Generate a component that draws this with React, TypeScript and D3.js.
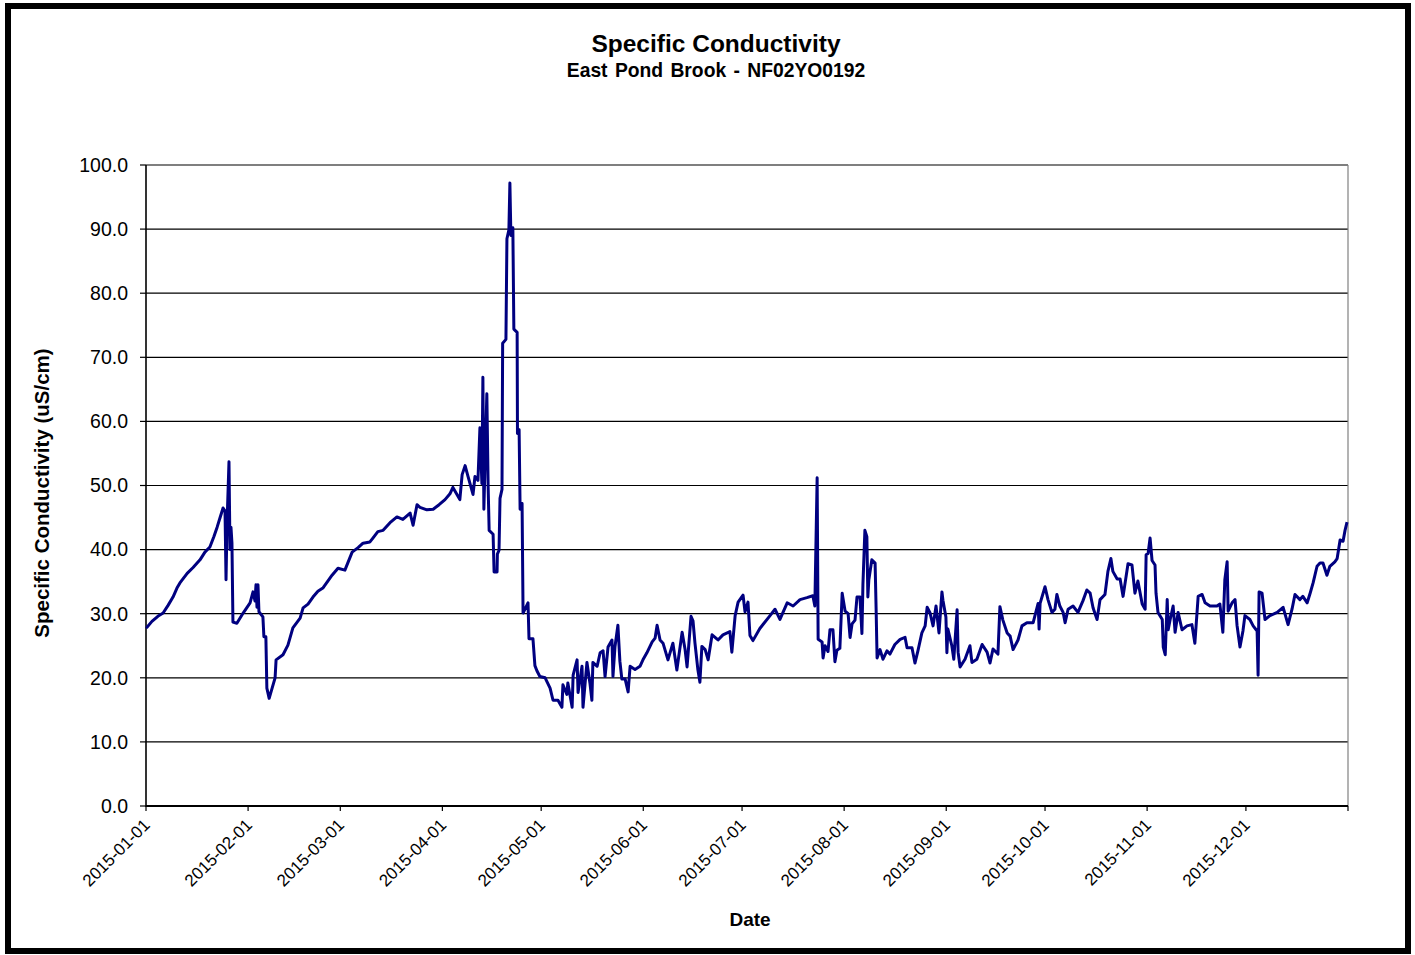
import * as d3 from "d3";

// readings as [day of year (0 = 2015-01-01), uS/cm]
const janMar: [number, number][] = [
  [0, 28.0], [0.3, 27.9], [1.8, 28.8], [3.6, 29.6], [5.2, 30.1], [6.7, 31.3], [8.2, 32.6],
  [9.4, 34.0], [10.3, 34.8], [12.5, 36.3], [14.3, 37.2], [16.4, 38.4], [17.9, 39.6],
  [19.4, 40.4], [20.6, 42.0], [21.6, 43.5], [22.5, 45.0], [23.4, 46.5], [24.0, 46.0],
  [24.3, 35.3], [24.6, 44.0], [25.2, 53.7], [25.5, 40.0], [25.8, 43.5], [26.1, 41.0],
  [26.4, 28.7], [27.6, 28.5], [29.5, 30.1], [31.6, 31.7], [32.5, 33.4], [33.1, 32.0],
  [33.4, 34.5], [33.7, 31.0], [34.0, 34.5], [34.3, 30.3], [35.5, 29.5], [35.8, 26.4],
  [36.4, 26.4], [36.7, 18.4], [37.4, 16.8], [38.3, 18.4], [39.2, 20.0], [39.5, 22.8],
  [41.6, 23.6], [43.1, 25.1], [44.6, 27.8], [46.8, 29.3], [47.7, 30.9], [49.2, 31.5],
  [50.7, 32.6], [52.2, 33.5], [53.7, 34.0], [56.5, 36.0], [58.3, 37.1], [60.4, 36.8],
  [62.6, 39.6], [64.4, 40.3], [65.9, 41.0], [68.0, 41.2], [68.9, 41.8], [70.4, 42.8],
  [72.0, 43.0], [74.1, 44.2], [76.2, 45.1], [78.0, 44.7], [80.2, 45.7], [81.1, 43.8],
  [82.3, 47.0], [83.2, 46.6], [85.3, 46.2], [87.2, 46.3], [89.0, 47.0],
];

const aprJun: [number, number][] = [
  [90.8, 47.8], [92.3, 48.7], [93.2, 49.7], [95.3, 47.8], [96.0, 51.7], [96.9, 53.1],
  [97.8, 51.4], [99.3, 48.6], [99.9, 51.4], [100.8, 50.8], [101.4, 59.0], [102.0, 50.3],
  [102.3, 66.9], [102.6, 46.3], [103.5, 64.3], [103.9, 49.7], [104.2, 43.0], [105.4, 42.4],
  [105.7, 36.5], [106.6, 36.5], [106.7, 39.3], [107.2, 39.9], [107.5, 48.0], [108.1, 49.4],
  [108.3, 72.2], [109.3, 72.8], [109.6, 88.5], [110.2, 89.9], [110.5, 97.2], [110.8, 89.0],
  [111.4, 90.2], [111.7, 74.4], [112.7, 73.9], [112.8, 58.1], [113.3, 58.7], [113.6, 46.3],
  [114.2, 47.2], [114.5, 30.1], [116.0, 31.7], [116.3, 26.1], [117.5, 26.1], [118.1, 21.9],
  [118.7, 21.1], [119.6, 20.2], [121.2, 20.0], [122.7, 18.4], [123.6, 16.5],
  [125.1, 16.5], [126.3, 15.4], [126.6, 18.9], [127.8, 17.4], [128.1, 19.2], [129.4, 15.4],
  [129.7, 20.4], [130.9, 22.8], [131.2, 17.7], [132.4, 21.8], [132.7, 15.4], [133.9, 22.4],
  [134.8, 19.2], [135.4, 16.5], [135.7, 22.4], [137.0, 21.8], [137.9, 23.9], [138.8, 24.2],
  [139.4, 20.2], [140.3, 24.8], [141.5, 25.9], [141.8, 20.2], [142.4, 24.8], [143.3, 28.2],
  [143.9, 22.6], [144.5, 19.8], [145.5, 19.8], [146.4, 17.8], [147.0, 21.8], [148.5, 21.3],
  [150.0, 21.8], [150.9, 22.8], [152.1, 23.9], [153.7, 25.6], [154.6, 26.2], [155.2, 28.2],
  [156.1, 25.9], [157.0, 25.4], [158.5, 22.8], [160.0, 25.4], [161.2, 21.2], [162.8, 27.1],
  [163.7, 24.4], [164.3, 21.7], [165.5, 29.6], [166.1, 28.9], [166.7, 25.4], [167.6, 21.2],
  [168.2, 19.3], [168.8, 24.9], [169.8, 24.4], [170.7, 22.8], [171.9, 26.7], [173.7, 25.9],
  [175.2, 26.7], [177.3, 27.2], [177.9, 24.0], [178.9, 29.7], [179.8, 31.8],
];

const julSep: [number, number][] = [
  [181.3, 32.9], [181.9, 30.3], [182.8, 31.8], [183.4, 26.6], [184.3, 25.8], [186.4, 27.7],
  [189.5, 29.7], [191.0, 30.7], [192.5, 29.1], [194.7, 31.7], [196.5, 31.2], [198.6, 32.2],
  [200.7, 32.5], [202.5, 32.8], [203.1, 31.2], [203.8, 51.2], [204.1, 26.0], [205.3, 25.6],
  [205.6, 23.1], [206.2, 25.0], [207.1, 24.1], [207.7, 27.5], [208.6, 27.5], [209.2, 22.5],
  [209.8, 24.3], [210.7, 24.6], [211.4, 33.2], [212.3, 30.4], [213.2, 30.0], [213.8, 26.3],
  [214.4, 28.4], [215.3, 29.0], [215.9, 32.6], [216.8, 32.6], [217.4, 26.9], [217.7, 34.5],
  [218.3, 43.0], [218.9, 42.0], [219.2, 32.6], [219.5, 35.3], [220.4, 38.4], [221.4, 37.9],
  [221.7, 30.9], [222.0, 23.1], [222.9, 24.4], [223.8, 22.9], [225.0, 24.2], [225.9, 23.7],
  [227.4, 25.2], [229.0, 26.0], [230.5, 26.3], [231.1, 24.7], [232.6, 24.7], [233.5, 22.3],
  [234.4, 24.2], [235.6, 27.0], [236.6, 28.1], [237.2, 31.0], [238.1, 30.1], [239.0, 28.1],
  [239.9, 31.2], [240.8, 27.0], [241.7, 33.4], [242.0, 32.1], [242.9, 29.5], [243.2, 23.9],
  [243.5, 27.6], [244.7, 25.0], [245.3, 22.9], [246.3, 30.6], [246.6, 24.0], [247.2, 21.7],
  [248.7, 22.9], [250.2, 25.0], [250.8, 22.4], [252.3, 22.9], [253.9, 25.2], [255.4, 24.0],
  [256.3, 22.3], [257.2, 24.5], [258.7, 23.7], [259.3, 31.1], [260.2, 29.0], [261.5, 27.0],
  [262.4, 26.5], [263.3, 24.4], [264.8, 25.9], [266.0, 28.1], [267.5, 28.6], [269.4, 28.6],
  [270.9, 31.6], [271.2, 27.6], [271.5, 31.6],
];

const octDec: [number, number][] = [
  [273.0, 34.2], [273.9, 32.2], [275.1, 30.2], [276.0, 30.7], [276.6, 33.0], [277.5, 31.2],
  [278.5, 30.2], [279.1, 28.6], [280.0, 30.7], [281.5, 31.2], [283.0, 30.2], [284.5, 32.0],
  [285.7, 33.7], [286.7, 33.2], [287.6, 30.9], [288.8, 29.1], [289.7, 32.2], [291.2, 33.0],
  [292.1, 36.6], [293.0, 38.6], [293.6, 36.6], [294.9, 35.4], [295.8, 35.4], [296.7, 32.7],
  [298.2, 37.8], [299.4, 37.6], [300.3, 33.2], [301.2, 35.1], [302.5, 31.5], [303.4, 30.7],
  [303.7, 39.2], [304.3, 39.4], [304.9, 41.8], [305.5, 38.3], [306.4, 37.6], [306.7, 33.2],
  [307.3, 30.2], [308.6, 29.1], [308.9, 24.8], [309.5, 23.6], [310.1, 32.2], [310.4, 27.5],
  [311.0, 29.1], [311.9, 31.2], [312.5, 27.1], [313.4, 30.2], [314.6, 27.5], [316.1, 28.1],
  [317.6, 28.3], [318.5, 25.4], [319.5, 32.7], [320.7, 33.0], [321.6, 31.7], [323.1, 31.2],
  [325.2, 31.2], [326.1, 31.5], [327.0, 27.1], [327.6, 35.3], [328.3, 38.1], [328.6, 30.4],
  [329.8, 31.7], [330.7, 32.2], [331.3, 28.2], [332.2, 24.8], [333.1, 27.3], [333.7, 29.7],
  [335.2, 29.1], [336.2, 28.1], [337.4, 27.3], [337.7, 20.4], [338.0, 33.4], [338.9, 33.2],
  [339.8, 29.1], [341.3, 29.7], [343.5, 30.2], [345.3, 31.0], [346.8, 28.3], [348.0, 30.7],
  [348.9, 33.0], [350.4, 32.2], [351.3, 32.7], [352.6, 31.7], [353.5, 33.2], [354.4, 34.8],
  [355.6, 37.4], [356.5, 37.9], [357.4, 37.9], [358.6, 36.0], [359.5, 37.4], [361.0, 38.1],
  [361.7, 38.6], [362.6, 41.5], [363.5, 41.3], [364.1, 43.0], [364.7, 44.3],
];

const monthLabels = [
  "2015-01-01", "2015-02-01", "2015-03-01", "2015-04-01", "2015-05-01", "2015-06-01",
  "2015-07-01", "2015-08-01", "2015-09-01", "2015-10-01", "2015-11-01", "2015-12-01",
];

const yTicks = [0, 10, 20, 30, 40, 50, 60, 70, 80, 90, 100];

const font = "'Liberation Sans', Arial, sans-serif";
const t0 = Date.UTC(2015, 0, 1);
const toDate = (d: number) => new Date(t0 + d * 864e5);

export default function App() {
  const width = 1415;
  const height = 955;
  const left = 146;
  const right = 1348;
  const top = 165;
  const bottom = 806;

  const x = d3
    .scaleUtc()
    .domain([new Date(t0), new Date(Date.UTC(2016, 0, 1))])
    .range([left, right]);
  const y = d3.scaleLinear().domain([0, 100]).range([bottom, top]);

  const readings = [...janMar, ...aprJun, ...julSep, ...octDec];
  const line = d3
    .line<[number, number]>()
    .x((d) => x(toDate(d[0])))
    .y((d) => y(d[1]));

  const monthTicks = monthLabels.map((s) => new Date(s + "T00:00:00Z"));
  const allTicks = [...monthTicks, new Date(Date.UTC(2016, 0, 1))];

  return (
    <svg
      width={width}
      height={height}
      style={{ position: "absolute", left: 0, top: 0, background: "#fff" }}
      fontFamily={font}
    >
      <rect x={8} y={6} width={1400} height={945} fill="#fff" stroke="#000" strokeWidth={6} />

      <text x={716} y={52} textAnchor="middle" fontSize={24.5} fontWeight="bold">
        Specific Conductivity
      </text>
      <text x={716} y={77} textAnchor="middle" fontSize={19.3} fontWeight="bold" wordSpacing={2}>
        East Pond Brook - NF02YO0192
      </text>

      {/* grid */}
      {yTicks.map((v) => (
        <g key={v}>
          <line x1={left} x2={right} y1={y(v)} y2={y(v)} stroke="#000" strokeWidth={1.2} />
          <line x1={left - 6} x2={left} y1={y(v)} y2={y(v)} stroke="#000" strokeWidth={1.2} />
          <text x={128} y={y(v)} dy="0.35em" textAnchor="end" fontSize={19.5}>
            {v.toFixed(1)}
          </text>
        </g>
      ))}
      <line x1={right} x2={right} y1={top} y2={bottom} stroke="#808080" strokeWidth={1.2} />
      <line x1={left} x2={left} y1={top} y2={bottom + 1} stroke="#000" strokeWidth={1.6} />
      <line x1={left} x2={right} y1={bottom} y2={bottom} stroke="#000" strokeWidth={2} />

      {allTicks.map((d, i) => (
        <line key={i} x1={x(d)} x2={x(d)} y1={bottom} y2={bottom + 5} stroke="#000" strokeWidth={1.2} />
      ))}
      {monthTicks.map((d, i) => (
        <text
          key={i}
          transform={`translate(${x(d) + 5},${826}) rotate(-45)`}
          textAnchor="end"
          fontSize={17}
        >
          {monthLabels[i]}
        </text>
      ))}

      <path d={line(readings) ?? ""} fill="none" stroke="#000080" strokeWidth={3} strokeLinejoin="round" />

      <text
        transform={`translate(49,493) rotate(-90)`}
        textAnchor="middle"
        fontSize={20.5}
        fontWeight="bold"
      >
        Specific Conductivity (uS/cm)
      </text>
      <text x={750} y={926} textAnchor="middle" fontSize={19} fontWeight="bold">
        Date
      </text>
    </svg>
  );
}
